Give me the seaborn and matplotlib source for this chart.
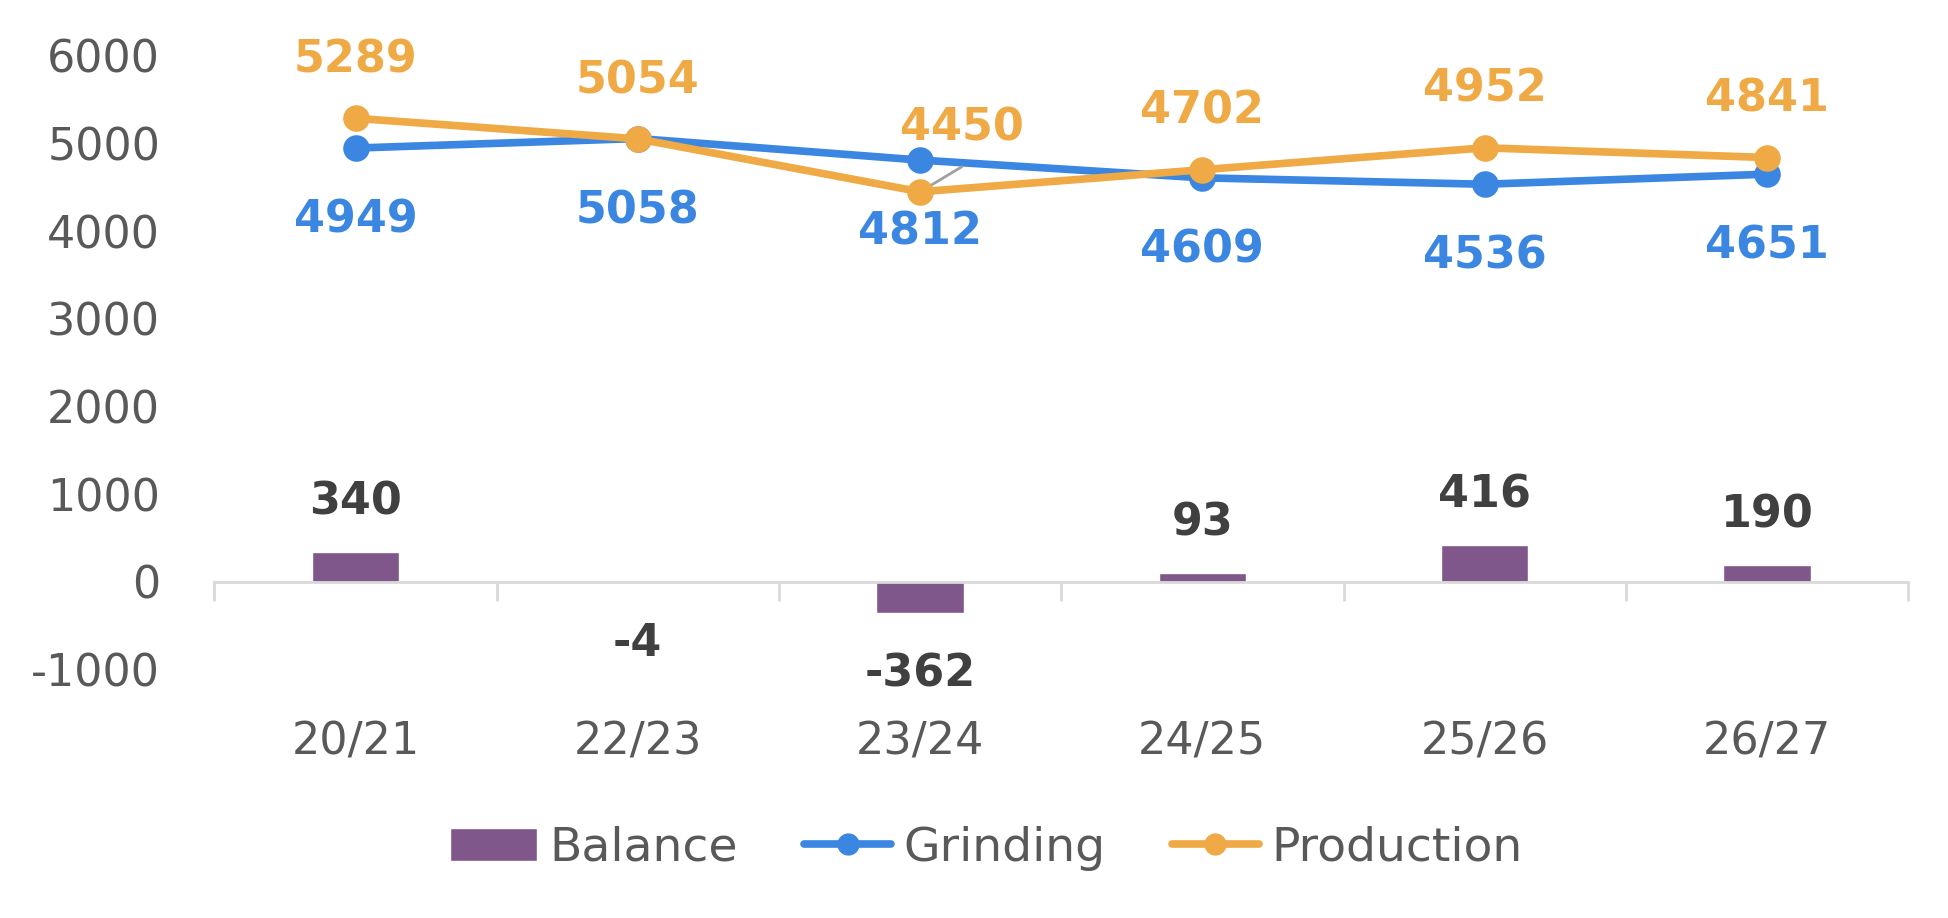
import matplotlib
matplotlib.use('Agg')
import matplotlib.pyplot as plt
from matplotlib.patches import Patch
from matplotlib.lines import Line2D
import pandas as pd
import seaborn as sns

# datos del grafico
seasons = ['20/21', '22/23', '23/24', '24/25', '25/26', '26/27']
balance = [340, -4, -362, 93, 416, 190]
grinding = [4949, 5058, 4812, 4609, 4536, 4651]
production = [5289, 5054, 4450, 4702, 4952, 4841]

PURPLE = '#7F578B'
BLUE = '#3A86E0'
ORANGE = '#EFA945'
GREY_TXT = '#595959'
DARK_TXT = '#404040'

sns.set_theme(style='white')
plt.rcParams['font.family'] = ['DejaVu Sans']
plt.rcParams['axes.unicode_minus'] = False

df = pd.DataFrame({'Season': seasons, 'Balance': balance,
                   'Grinding': grinding, 'Production': production})

fig = plt.figure(figsize=(19.49, 9.18), dpi=100)
ax = fig.add_axes([0.110, 0.271, 0.869, 0.668])

sns.barplot(data=df, x='Season', y='Balance', color=PURPLE, width=0.31,
            saturation=1, ax=ax, zorder=2)
sns.pointplot(data=df, x='Season', y='Grinding', color=BLUE, errorbar=None,
              markers='o', linewidth=5.5, markersize=15, ax=ax, zorder=3)
sns.pointplot(data=df, x='Season', y='Production', color=ORANGE, errorbar=None,
              markers='o', linewidth=5.5, markersize=15, ax=ax, zorder=4)

ax.set_ylim(-1000, 6000)
ax.set_xlim(-0.5, len(seasons) - 0.5)
ax.set_yticks(range(-1000, 6001, 1000))
ax.set_xlabel('')
ax.set_ylabel('')

# etiquetas de datos
lbl = dict(ha='center', va='center', fontsize=32, fontweight='bold',
           textcoords='offset points')
for i, v in enumerate(production):
    if seasons[i] == '23/24':
        # etiqueta desplazada con linea guia
        ax.annotate('', xy=(i, v), xytext=(30, 18), textcoords='offset points',
                    arrowprops=dict(arrowstyle='-', color='#A0A0A0', lw=2,
                                    shrinkA=0, shrinkB=3))
        ax.annotate(str(v), xy=(i, v), xytext=(30, 46), color=ORANGE, **lbl)
    else:
        ax.annotate(str(v), xy=(i, v), xytext=(0, 42), color=ORANGE, **lbl)
for i, v in enumerate(grinding):
    ax.annotate(str(v), xy=(i, v), xytext=(0, -52), color=BLUE, **lbl)
for i, v in enumerate(balance):
    off = 36 if v >= 0 else -44
    ax.annotate(str(v), xy=(i, v), xytext=(0, off), color=DARK_TXT, **lbl)

# ejes
for s in ['top', 'right', 'left']:
    ax.spines[s].set_visible(False)
ax.spines['bottom'].set_position(('data', 0))
ax.spines['bottom'].set_color('#D9D9D9')
ax.spines['bottom'].set_linewidth(2)
ax.tick_params(axis='y', length=0, labelsize=32, labelcolor=GREY_TXT, pad=39)
ax.tick_params(axis='x', which='major', length=0, labelsize=32,
               labelcolor=GREY_TXT, pad=100)
ax.set_xticks([i - 0.5 for i in range(len(seasons) + 1)], minor=True)
ax.tick_params(axis='x', which='minor', bottom=True, length=14, width=2,
               color='#D9D9D9', direction='out')

handles = [
    Patch(facecolor=PURPLE, label='Balance'),
    Line2D([0], [0], color=BLUE, lw=5.5, marker='o', markersize=15, label='Grinding'),
    Line2D([0], [0], color=ORANGE, lw=5.5, marker='o', markersize=15, label='Production'),
]
leg = fig.legend(handles=handles, loc='center', bbox_to_anchor=(0.506, 0.076),
                 ncol=3, frameon=False, fontsize=34, handlelength=1.85,
                 handletextpad=0.26, columnspacing=1.4)
for t in leg.get_texts():
    t.set_color(GREY_TXT)

plt.savefig('out.png', dpi=100)
